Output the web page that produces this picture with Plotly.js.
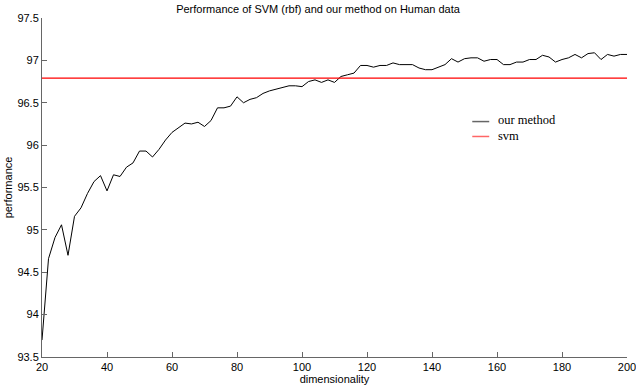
<!DOCTYPE html>
<html>
<head>
<meta charset="utf-8">
<script src="https://cdn.plot.ly/plotly-3.0.1.min.js"></script>
<style>html,body{margin:0;padding:0;background:#fff;}#chart{width:636px;height:385px;}</style>
</head>
<body>
<div id="chart"></div>
<script>
const dims = [20,22,24,26,28,30,32,34,36,38,40,42,44,46,48,50,52,54,56,58,60,62,64,66,68,70,72,74,76,78,80,82,84,86,88,90,92,94,96,98,100,102,104,106,108,110,112,114,116,118,120,122,124,126,128,130,132,134,136,138,140,142,144,146,148,150,152,154,156,158,160,162,164,166,168,170,172,174,176,178,180,182,184,186,188,190,192,194,196,198,200];
const ourMethod = [93.70,94.66,94.91,95.06,94.70,95.16,95.26,95.43,95.57,95.64,95.46,95.65,95.63,95.74,95.79,95.93,95.93,95.86,95.95,96.06,96.15,96.21,96.26,96.25,96.27,96.22,96.29,96.44,96.44,96.46,96.57,96.50,96.54,96.56,96.61,96.64,96.66,96.68,96.70,96.70,96.69,96.75,96.77,96.74,96.77,96.74,96.81,96.83,96.85,96.94,96.94,96.92,96.94,96.94,96.97,96.95,96.95,96.95,96.91,96.89,96.89,96.92,96.95,97.02,96.98,97.02,97.03,97.03,96.99,97.01,97.01,96.95,96.95,96.98,96.98,97.01,97.01,97.06,97.04,96.98,97.01,97.03,97.07,97.03,97.08,97.09,97.01,97.07,97.05,97.07,97.07];
const svmX = [20, 200];
const svmY = [96.79, 96.79];
const xTicks = [20,40,60,80,100,120,140,160,180,200];
const yTicks = [93.5,94,94.5,95,95.5,96,96.5,97,97.5];
const seriesNames = ['our method', 'svm'];
const seriesColors = ['#000000', '#ff0000'];

const traces = [
  {x: dims, y: ourMethod, type: 'scatter', mode: 'lines', name: seriesNames[0],
   line: {color: seriesColors[0], width: 1}},
  {x: svmX, y: svmY, type: 'scatter', mode: 'lines', name: seriesNames[1],
   line: {color: seriesColors[1], width: 1.3}}
];

// custom compact legend (MATLAB style)
const legY = [0.6945, 0.6505];
const sampleColors = ['#666666', '#ff6666'];
const shapes = legY.map((yy, i) => ({type: 'line', xref: 'paper', yref: 'paper', x0: 0.7355, x1: 0.7645, y0: yy, y1: yy,
               line: {color: sampleColors[i], width: 1.5}}));
const annotations = [{xref: 'paper', yref: 'paper', x: 0.778, y: (legY[0] + legY[1]) / 2 + 0.004,
                      xanchor: 'left', yanchor: 'middle', align: 'left', borderpad: 0,
                      text: seriesNames.join('<br>'), showarrow: false,
                      font: {family: 'Liberation Serif, Times New Roman, serif', size: 12.5, color: '#000'}}];

const axisFont = {family: 'Liberation Sans, Arial, sans-serif', size: 11, color: '#000'};
const layout = {
  width: 636, height: 385,
  margin: {l: 42, r: 9, t: 18, b: 28},
  paper_bgcolor: '#fff', plot_bgcolor: '#fff',
  showlegend: false,
  shapes: shapes,
  annotations: annotations,
  title: {text: 'Performance of SVM (rbf) and our method on Human data',
          font: {family: 'Liberation Sans, Arial, sans-serif', size: 11, color: '#000'},
          x: 0.5, xanchor: 'center', y: 0.985, yanchor: 'top'},
  xaxis: {range: [20, 200], tickvals: xTicks, ticktext: xTicks.map(String),
          ticks: 'inside', ticklen: 5, tickcolor: '#666', showline: true, linecolor: '#666', linewidth: 1,
          showgrid: false, zeroline: false, mirror: false, tickfont: axisFont, ticklabeloverflow: 'allow',
          title: {text: 'dimensionality', font: {family: 'Liberation Sans, Arial, sans-serif', size: 11, color: '#000'}, standoff: 0}},
  yaxis: {range: [93.5, 97.5], tickvals: yTicks, ticktext: yTicks.map(String),
          ticks: 'inside', ticklen: 5, tickcolor: '#666', showline: true, linecolor: '#666', linewidth: 1,
          showgrid: false, zeroline: false, mirror: false, tickfont: axisFont, ticklabeloverflow: 'allow',
          title: {text: 'performance', font: {family: 'Liberation Sans, Arial, sans-serif', size: 11, color: '#000'}, standoff: 2}}
};
Plotly.newPlot('chart', traces, layout, {displayModeBar: false, staticPlot: true});
</script>
</body>
</html>
